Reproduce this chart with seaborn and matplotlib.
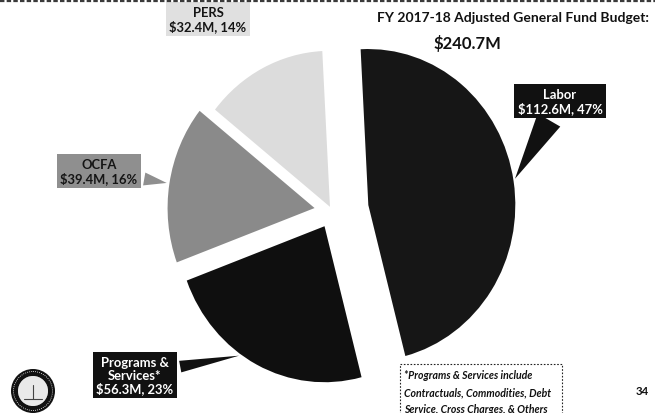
import numpy as np
import matplotlib
matplotlib.use("Agg")
import matplotlib.pyplot as plt
import seaborn as sns
from matplotlib.patches import Circle, Rectangle

# General Fund budget split, FY 2017-18 ($ millions)
categories = ["Labor", "Programs &\nServices*", "OCFA", "PERS"]
amounts = [112.6, 56.3, 39.4, 32.4]
percents = [47, 23, 16, 14]
title_line1 = "FY 2017-18 Adjusted General Fund Budget:"
title_line2 = "$240.7M"
footnote_lines = ["*Programs & Services include",
                  "Contractuals, Commodities, Debt",
                  "Service, Cross Charges, & Others"]
page_number = "34"

sns.set_theme(style="white")
plt.rcParams["font.family"] = ["Lato", "DejaVu Sans"]

W, H = 655, 414
RX, RY = 147, 156          # pixel extent of a unit radius (slightly oval pie)

fig = plt.figure(figsize=(W / 100, H / 100), dpi=100)
fig.patch.set_facecolor("white")
ax = fig.add_axes([0, 0, 1, 1])


def to_data(px, py):
    return px / RX, (H - py) / RY


fills = ["#161616", "#0f0f0f", "#8a8a8a", "#dcdcdc"]
offsets = [0.25, 0.11, 0.12, 0.03]
cx, cy = to_data(332, 212)
wedges, _ = ax.pie(amounts, explode=offsets, colors=fills, startangle=93,
                   counterclock=False, center=(cx, cy), radius=1.0,
                   wedgeprops=dict(linewidth=0))
ax.set_aspect("auto")
ax.set_xlim(0, W / RX)
ax.set_ylim(0, H / RY)
ax.axis("off")


def rim(w, frac):
    th = np.deg2rad(w.theta1 + frac * (w.theta2 - w.theta1))
    return (w.center[0] + w.r * np.cos(th), w.center[1] + w.r * np.sin(th))


# callout boxes: (text anchor in pixels, box colour, text colour,
#                 point on rim, pointer base width)
callouts = [
    ((560, 102), "#111111", "white", 0.50, 2.0),
    ((135, 376), "#111111", "white", 0.42, 0.9),
    ((99, 172), "#8f8f8f", "#151515", 0.50, 1.0),
    ((208, 20), "#e0e0e0", "#151515", None, None),
]

for w, name, amt, pct, (pos, bc, tc, frac, tw) in zip(wedges, categories,
                                                      amounts, percents,
                                                      callouts):
    txt = f"{name}\n${amt}M, {pct}%"
    px, py = pos
    kw = dict(xytext=(px, H - py), textcoords="figure pixels",
              ha="center", va="center", fontsize=9.4, fontweight="bold",
              color=tc, linespacing=1.05,
              bbox=dict(boxstyle="square,pad=0.3", fc=bc, ec="none"))
    if frac is not None:
        ax.annotate(txt, xy=rim(w, frac), xycoords="data",
                    arrowprops=dict(arrowstyle=f"wedge,tail_width={tw},shrink_factor=0.5",
                                    fc=bc, ec="none"), **kw)
    else:
        ax.annotate(txt, xy=(px, H - py), xycoords="figure pixels", **kw)

# overlay in pixel coordinates (y downwards)
ov = fig.add_axes([0, 0, 1, 1], facecolor="none")
ov.set_xlim(0, W)
ov.set_ylim(H, 0)
ov.axis("off")

# rule along the top of the slide
ov.plot([0, W], [1.5, 1.5], color="#3a3a3a", lw=1.6, ls=(0, (2, 1)))

ov.text(513, 18, title_line1, ha="center", va="center", fontsize=10.0,
        fontweight="bold", color="#111111")
ov.text(467, 44, title_line2, ha="center", va="center", fontsize=12.0,
        fontweight="bold", color="#111111")

# footnote box
ov.add_patch(Rectangle((400, 365), 162, 60, fill=False, ec="#222222",
                       lw=0.8, ls=(0, (1.5, 1.5))))
for i, line in enumerate(footnote_lines):
    ov.text(404, 376 + 17 * i, line, ha="left", va="center", fontsize=7.6,
            fontstyle="italic", fontweight="bold", color="#111111")
ov.text(642, 392, page_number, ha="center", va="center", fontsize=8.2,
        fontweight="bold", color="#111111")

# city seal
ov.add_patch(Circle((33, 392), 22, fc="#111111", ec="none"))
ov.add_patch(Circle((33, 392), 19.5, fc="none", ec="white", lw=0.6,
                    ls=(0, (1, 1.5))))
ov.add_patch(Circle((33, 392), 15, fc="white", ec="none"))
ov.add_patch(Circle((33, 392), 15, fc="#d4d4d4", ec="none", alpha=0.5))
ov.plot([24, 42], [400, 400], color="#444444", lw=0.8)
ov.plot([33, 33], [386, 400], color="#444444", lw=0.8)

fig.savefig("out.png", dpi=100, facecolor="white")
